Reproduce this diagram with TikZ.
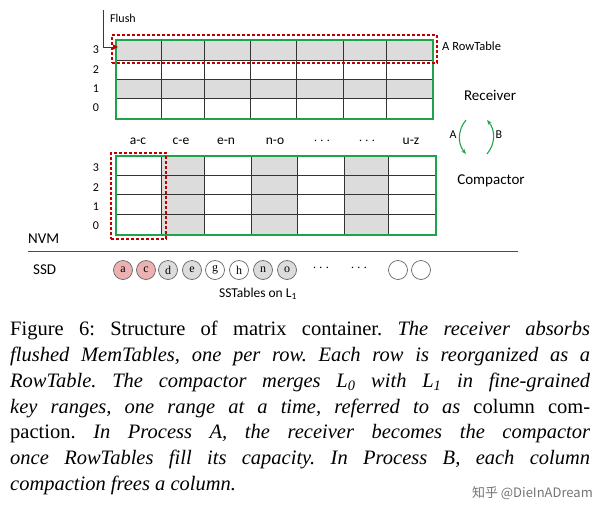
\documentclass[tikz,border=0pt]{standalone}
\usepackage{fontspec}
\setmainfont{Liberation Serif}
\newfontfamily\carl{Carlito}
\newfontfamily\cjkf{Noto Sans CJK SC}
\usetikzlibrary{arrows.meta}
\definecolor{gr}{HTML}{1FA34A}
\definecolor{dr}{HTML}{C00000}
\definecolor{cellgray}{HTML}{DCDCDC}
\begin{document}
\begin{tikzpicture}[x=1pt,y=-1pt,
  lab/.style={font=\carl\fontsize{12}{13}\selectfont,inner sep=0},
  big/.style={font=\carl\fontsize{15}{16}\selectfont,inner sep=0},
  grid/.style={draw=black!80,line width=0.6pt},
  frame/.style={draw=gr,line width=1.6pt},
  dbox/.style={draw=dr,line width=1.6pt,dash pattern=on 3pt off 2pt},
  sst/.style={circle,draw=black!60,line width=0.7pt,minimum size=19pt,inner sep=0,font=\fontsize{12}{13}\selectfont}]
\useasboundingbox (0,0) rectangle (600,517);
% receiver
\fill[cellgray] (115,39) rectangle (432,60);
\fill[cellgray] (115,79) rectangle (432,98);
\foreach \y in {60,79,98} \draw[grid] (115,\y) -- (432,\y);
\foreach \x in {161,204,250,296,343,386} \draw[grid] (\x,39) -- (\x,118);
\node[frame,minimum width=317pt,minimum height=79pt,anchor=north west,inner sep=0] (recv) at (115,39) {};
% compactor
\foreach \a/\b in {161/204,251/297,344/388} \fill[cellgray] (\a,155) rectangle (\b,234);
\foreach \y in {175,194,214} \draw[grid] (115,\y) -- (435,\y);
\foreach \x in {161,204,251,297,344,388} \draw[grid] (\x,155) -- (\x,234);
\node[frame,minimum width=320pt,minimum height=79pt,anchor=north west,inner sep=0] (comp) at (115,155) {};
% dashed
\node[dbox,minimum width=325pt,minimum height=28pt,anchor=north west,inner sep=0] (rowt) at (111,34) {};
\node[dbox,minimum width=55pt,minimum height=86pt,anchor=north west,inner sep=0] (colt) at (110,152) {};
% flush
\coordinate (fl0) at (103,10);
\coordinate (fl1) at (103,47);
\coordinate (fl2) at (118,47);
\draw[dr,line width=1pt,-{Triangle[length=5pt,width=5pt]}] (fl0) -- (fl1) -- (fl2);
\node[lab,anchor=west] (flush) at (110,18) {Flush};
% row labels
\foreach \t/\y in {3/50,2/70,1/89,0/108,3/168,2/188,1/207,0/226} \node[lab] at (96,\y) {\t};
% column labels
\foreach \t/\x in {a-c/138,c-e/181,e-n/226,n-o/275,$\cdots$/322,$\cdots$/367,u-z/411}
  \node[big,font=\carl\fontsize{13.5}{14}\selectfont] at (\x,141) {\t};
\node[big,font=\carl\fontsize{12.5}{13}\selectfont,anchor=west] (rtl) at (442,46) {A RowTable};
\node[big] (rl) at (490,95) {Receiver};
\node[big] (cl) at (491,181) {Compactor};
\node[lab,font=\carl\fontsize{12}{13}\selectfont] (al) at (453,135) {A};
\node[lab,font=\carl\fontsize{12}{13}\selectfont] (bl) at (499,135) {B};
\coordinate (a1) at (466,120); \coordinate (a2) at (466,154);
\coordinate (b1) at (487,154); \coordinate (b2) at (487,120);
\draw[gr,line width=1.1pt,-{Stealth[length=5pt]}] (a1) to[bend right=40] (a2);
\draw[gr,line width=1.1pt,-{Stealth[length=5pt]}] (b1) to[bend right=40] (b2);
% NVM/SSD
\node[big,anchor=west] (nvm) at (28,239) {NVM};
\node[big,anchor=west] (ssd) at (33,270) {SSD};
\coordinate (l0) at (28,251); \coordinate (l1) at (518,251);
\draw[black!70,line width=0.8pt] (l0) -- (l1);
\foreach \t/\x/\c in {a/123/dr!30,c/146/dr!30,d/168/cellgray,e/192/cellgray,g/215/white,h/239/white,n/263/cellgray,o/287/cellgray,{}/398/white,{}/421/white}
  \node[sst,fill=\c] at (\x,270) {\t};
\node[big] at (321,268) {$\cdots$};
\node[big] at (359,268) {$\cdots$};
\node[big,font=\carl\fontsize{13.5}{14}\selectfont] (sl) at (258,294) {SSTables on L\textsubscript{1}};
% caption
\node[anchor=north west,inner sep=0,text width=580pt,align=justify,font=\fontsize{20.5}{25.8}\selectfont] (cap) at (10,321) {\frenchspacing%
Figure 6: Structure of matrix container. \textit{The receiver absorbs}\linebreak
\textit{flushed MemTables, one per row. Each row is reorganized as a}\linebreak
\textit{RowTable. The compactor merges L\textsubscript{0} with L\textsubscript{1} in fine-grained}\linebreak
\textit{key ranges, one range at a time, referred to as} column com-\linebreak
paction. \textit{In Process A, the receiver becomes the compactor}\linebreak
\textit{once RowTables fill its capacity. In Process B, each column}\linebreak
\textit{compaction frees a column.}};
\node[anchor=east,inner sep=0,font=\fontsize{13}{14}\selectfont,text=black!55] (wm) at (593,493) {\cjkf 知乎 @DieInADream};
\end{tikzpicture}
\end{document}
